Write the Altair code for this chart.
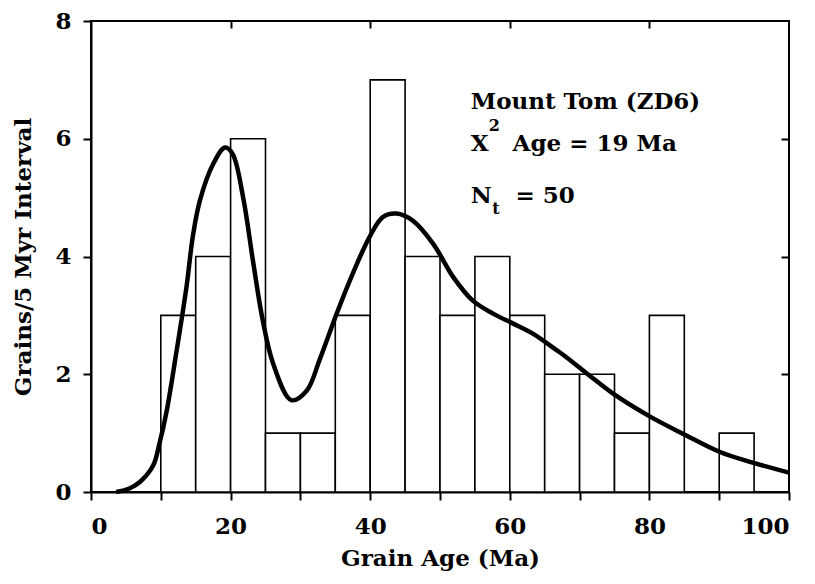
import altair as alt
import pandas as pd

# ---- data ----
bin_start = [10, 15, 20, 25, 30, 35, 40, 45, 50, 55, 60, 65, 70, 75, 80, 85, 90]
bin_count = [3, 4, 6, 1, 1, 3, 7, 4, 3, 4, 3, 2, 2, 1, 3, 0, 1]
bin_width = 5

curve_age = [3.6, 5.5, 7.0, 8.9, 9.8, 10.8, 12.2, 13.7, 14.6, 15.6, 17.5, 19.2, 20.3,
             21.8, 23.2, 24.6, 26.1, 28.7, 30.9, 32.8, 35.2, 37.5, 39.9, 41.8, 43.75,
             46.1, 49.0, 51.9, 54.7, 57.6, 60.5, 63.3, 66.7, 68.1, 71.4, 74.8, 80.1,
             84.8, 90.1, 94.8, 100.0]
curve_grains = [0.0, 0.06, 0.17, 0.45, 0.82, 1.35, 2.35, 3.5, 4.35, 4.95, 5.57, 5.85, 5.74,
                5.0, 3.93, 2.92, 2.18, 1.56, 1.72, 2.26, 3.03, 3.71, 4.33, 4.67, 4.73,
                4.61, 4.22, 3.65, 3.25, 3.03, 2.86, 2.69, 2.41, 2.29, 1.98, 1.67, 1.28,
                0.99, 0.68, 0.50, 0.33]

label_main = ["Mount Tom (ZD6)", "X", "Age = 19 Ma", "N", "= 50"]
label_main_x = [54.4, 54.4, 60.4, 54.4, 60.8]
label_main_y = [6.51, 5.79, 5.79, 4.91, 4.91]
label_small = ["2", "t"]
label_small_x = [57.0, 57.5]
label_small_y = [6.13, 4.72]

x_ticks = list(range(0, 101, 10))
y_ticks = [0, 2, 4, 6, 8]
top_ticks = [20, 40, 60, 80]
right_ticks = [2, 4, 6]

FONT = "DejaVu Serif"
FS = 23

bars = pd.DataFrame({
    "start": bin_start,
    "end": [s + bin_width for s in bin_start],
    "count": bin_count,
})
bars = bars[bars["count"] > 0]
curve = pd.DataFrame({"age": curve_age, "grains": curve_grains})
main_txt = pd.DataFrame({"t": label_main, "x": label_main_x, "y": label_main_y})
small_txt = pd.DataFrame({"t": label_small, "x": label_small_x, "y": label_small_y})

x_scale = alt.Scale(domain=[0, 100], nice=False, zero=False)
y_scale = alt.Scale(domain=[0, 8], nice=False)

bar_layer = alt.Chart(bars).mark_rect(fill="white", stroke="black", strokeWidth=1.6).encode(
    x=alt.X("start:Q", scale=x_scale, axis=alt.Axis(
        values=x_ticks, labelExpr="datum.value % 20 == 0 ? datum.label : ''",
        title="Grain Age (Ma)", tickSize=8, labelPadding=15, titlePadding=9,
        orient="bottom")),
    x2="end:Q",
    y=alt.Y("count:Q", scale=y_scale, axis=alt.Axis(
        values=y_ticks, title="Grains/5 Myr Interval", tickSize=8, labelPadding=12,
        titlePadding=19, orient="left")),
    y2=alt.datum(0),
)

line_layer = alt.Chart(curve).mark_line(color="black", strokeWidth=4.5, interpolate="catmull-rom").encode(
    x=alt.X("age:Q", scale=x_scale, axis=alt.Axis(
        orient="top", values=top_ticks, labels=False, domain=False, title=None,
        tickSize=7, offset=-7)),
    y=alt.Y("grains:Q", scale=y_scale, axis=alt.Axis(
        orient="right", values=right_ticks, labels=False, domain=False, title=None,
        tickSize=8, offset=-8)),
)

text_main = alt.Chart(main_txt).mark_text(
    align="left", baseline="alphabetic", font=FONT, fontSize=FS, fontWeight="bold", color="black"
).encode(
    x=alt.X("x:Q", scale=x_scale, axis=None),
    y=alt.Y("y:Q", scale=y_scale, axis=None),
    text="t:N",
)
text_small = alt.Chart(small_txt).mark_text(
    align="left", baseline="alphabetic", font=FONT, fontSize=16, fontWeight="bold", color="black"
).encode(
    x=alt.X("x:Q", scale=x_scale, axis=None),
    y=alt.Y("y:Q", scale=y_scale, axis=None),
    text="t:N",
)

chart = alt.layer(bar_layer, line_layer, text_main, text_small).resolve_axis(
    x="independent", y="independent"
).properties(
    width=698, height=471,
    padding={"left": 83, "top": 13, "right": 18, "bottom": 84},
    autosize=alt.AutoSizeParams(type="none"),
).configure_view(
    stroke="black", strokeWidth=2
).configure_axis(
    grid=False, domainColor="black", domainWidth=2, tickColor="black", tickWidth=2,
    labelFont=FONT, labelFontSize=FS, labelFontWeight="bold", labelColor="black",
    titleFont=FONT, titleFontSize=FS, titleFontWeight="bold", titleColor="black",
)

chart.save("out.html", embed_options={"renderer": "svg", "actions": False})
